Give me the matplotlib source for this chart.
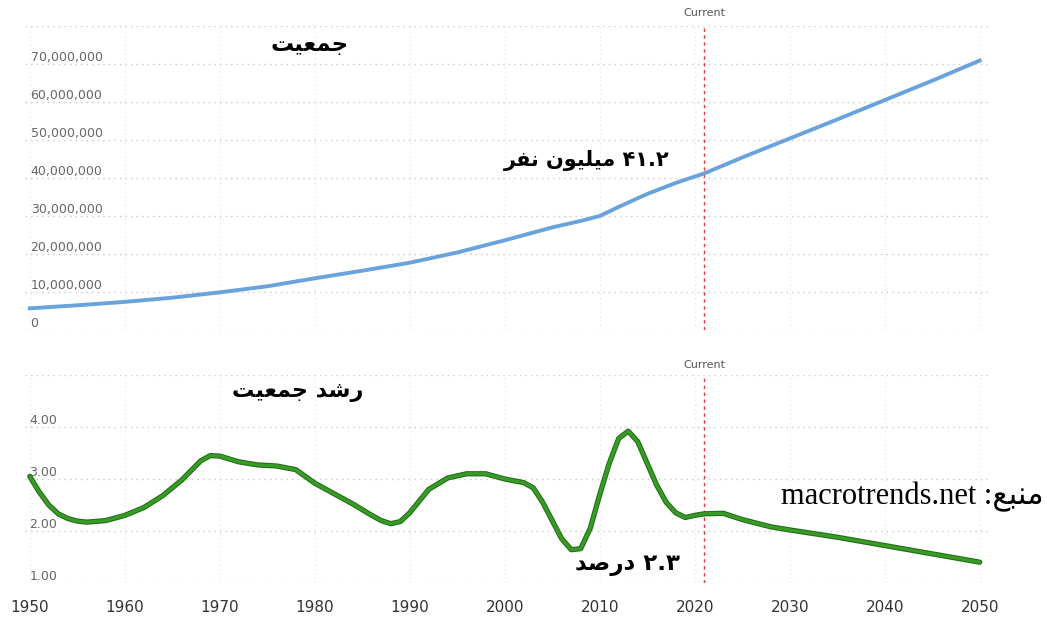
import numpy as np
import matplotlib
matplotlib.use('Agg')
import matplotlib.pyplot as plt
from matplotlib.ticker import FixedLocator, FuncFormatter

# population (Iraq)
popYears = [1950, 1955, 1960, 1965, 1970, 1975, 1980, 1985, 1990, 1995, 2000,
            2005, 2008, 2010, 2012, 2015, 2018, 2021, 2025, 2030, 2035, 2040, 2045, 2050]
popValues = [5.7, 6.5, 7.4, 8.5, 9.9, 11.5, 13.6, 15.6, 17.7, 20.4, 23.6,
             27.0, 28.7, 30.0, 32.4, 35.8, 38.7, 41.2, 45.4, 50.4, 55.4, 60.5, 65.6, 70.9]
popValues = [v * 1e6 for v in popValues]

# annual growth rate (%)
rateYears = [1950, 1951, 1952, 1953, 1954, 1955, 1956, 1958, 1960, 1962, 1964, 1966,
             1968, 1969, 1970, 1972, 1974, 1976, 1978, 1980, 1982, 1984, 1986, 1987,
             1988, 1989, 1990, 1992, 1994, 1996, 1998, 2000, 2002, 2003, 2004, 2005,
             2006, 2007, 2008, 2009, 2010, 2011, 2012, 2013, 2014, 2015, 2016, 2017,
             2018, 2019, 2020, 2021, 2023, 2025, 2028, 2030, 2035, 2040, 2045, 2050]
rateValues = [3.05, 2.75, 2.5, 2.33, 2.24, 2.19, 2.17, 2.2, 2.3, 2.45, 2.68, 2.98,
              3.35, 3.45, 3.44, 3.33, 3.27, 3.25, 3.18, 2.92, 2.72, 2.52, 2.3, 2.2,
              2.14, 2.18, 2.35, 2.8, 3.02, 3.1, 3.1, 3.0, 2.93, 2.83, 2.55, 2.2,
              1.85, 1.64, 1.66, 2.05, 2.7, 3.3, 3.78, 3.92, 3.72, 3.3, 2.88, 2.55,
              2.35, 2.26, 2.3, 2.33, 2.34, 2.22, 2.08, 2.02, 1.88, 1.72, 1.56, 1.4]

popTicks = list(range(0, 80000001, 10000000))
rateTicks = [1, 2, 3, 4, 5]
decades = list(range(1950, 2051, 10))
currentYear = 2021

# --- tiny Persian shaper (matplotlib has no bidi / arabic shaping) ---
# letter: (isolated, final, initial, medial)
FORMS = {
    'ب': ('\ufe8f', '\ufe90', '\ufe91', '\ufe92'),
    'ت': ('\ufe95', '\ufe96', '\ufe97', '\ufe98'),
    'ج': ('\ufe9d', '\ufe9e', '\ufe9f', '\ufea0'),
    'د': ('\ufea9', '\ufeaa', '\ufea9', '\ufeaa'),
    'ر': ('\ufead', '\ufeae', '\ufead', '\ufeae'),
    'ش': ('\ufeb5', '\ufeb6', '\ufeb7', '\ufeb8'),
    'ص': ('\ufeb9', '\ufeba', '\ufebb', '\ufebc'),
    'ع': ('\ufec9', '\ufeca', '\ufecb', '\ufecc'),
    'ف': ('\ufed1', '\ufed2', '\ufed3', '\ufed4'),
    'ل': ('\ufedd', '\ufede', '\ufedf', '\ufee0'),
    'م': ('\ufee1', '\ufee2', '\ufee3', '\ufee4'),
    'ن': ('\ufee5', '\ufee6', '\ufee7', '\ufee8'),
    'و': ('\ufeed', '\ufeee', '\ufeed', '\ufeee'),
    'ی': ('\ufbfc', '\ufbfd', '\ufbfe', '\ufbff'),
}
RIGHT_ONLY = set('درو')


def shape_word(w):
    out = []
    for i, c in enumerate(w):
        if c not in FORMS:
            out.append(c)
            continue
        prev = w[i - 1] if i > 0 else ''
        nxt = w[i + 1] if i + 1 < len(w) else ''
        linkPrev = prev in FORMS and prev not in RIGHT_ONLY
        linkNext = c not in RIGHT_ONLY and nxt in FORMS
        iso, fin, ini, med = FORMS[c]
        if linkPrev and linkNext:
            out.append(med)
        elif linkPrev:
            out.append(fin)
        elif linkNext:
            out.append(ini)
        else:
            out.append(iso)
    return out


def fa(text):
    words = []
    for w in reversed(text.split(' ')):
        if any(ch in FORMS for ch in w):
            words.append(''.join(reversed(shape_word(w))))
        else:
            words.append(w)
    return ' '.join(words)


plt.rcParams['font.family'] = ['DejaVu Sans']

fig = plt.figure(figsize=(10.47, 6.19), dpi=100)
ax1 = fig.add_axes([0.0239, 0.4669, 0.9236, 0.4911])
ax2 = fig.add_axes([0.0239, 0.0582, 0.9236, 0.3360])

xlo, xhi = 1949.5, 2051.3
gridH = dict(color='#c8c8c8', linestyle=(0, (1, 3)), linewidth=1.0)
gridV = dict(color='#e4e4e4', linestyle=(0, (1, 3)), linewidth=0.8)

for ax in (ax1, ax2):
    ax.set_xlim(xlo, xhi)
    for s in ax.spines.values():
        s.set_visible(False)
    ax.xaxis.set_major_locator(FixedLocator(decades))
    ax.tick_params(axis='both', length=0)
    ax.grid(axis='x', **gridV)
    ax.grid(axis='y', **gridH)
    ax.set_axisbelow(True)
    ax.axvline(currentYear, color='#e0393e', linestyle=(0, (2.5, 2.5)), linewidth=1.0, zorder=1)
    ax.text(currentYear, 1.025, 'Current', transform=ax.get_xaxis_transform(),
            ha='center', va='bottom', fontsize=8, color='#555555')

# top: population
ax1.plot(popYears, popValues, color='#6aa2dc', linewidth=2.8, zorder=3)
ax1.set_ylim(0, 80000000)
ax1.yaxis.set_major_locator(FixedLocator(popTicks))
ax1.yaxis.set_major_formatter(FuncFormatter(lambda v, p: '' if v >= 80000000 else f'{int(v):,}'))
ax1.set_xticklabels([])
ax1.tick_params(axis='y', pad=-4, labelsize=9, labelcolor='#666666')
for lab in ax1.get_yticklabels():
    lab.set_horizontalalignment('left')
    lab.set_verticalalignment('bottom')

# bottom: growth rate
ax2.plot(rateYears, rateValues, color='#1f6e14', linewidth=3.8, zorder=3, solid_capstyle='round')
ax2.plot(rateYears, rateValues, color='#3a9a28', linewidth=2.3, zorder=4, solid_capstyle='round')
ax2.set_ylim(1, 5)
ax2.yaxis.set_major_locator(FixedLocator(rateTicks))
ax2.yaxis.set_major_formatter(FuncFormatter(lambda v, p: '' if v >= 5 else f'{v:.2f}'))
ax2.tick_params(axis='y', pad=-3, labelsize=9, labelcolor='#666666')
for lab in ax2.get_yticklabels():
    lab.set_horizontalalignment('left')
    lab.set_verticalalignment('bottom')
ax2.tick_params(axis='x', pad=12, labelsize=11, labelcolor='#333333')

# Persian annotations
faFont = dict(family=['DejaVu Sans'], fontweight='bold', color='black')
ax1.text(1979.5, 75e6, fa('جمعیت'), ha='center', va='center', fontsize=16.5, **faFont)
ax1.text(2008.6, 44.7e6, fa('۴۱.۲ میلیون نفر'), ha='center', va='center', fontsize=15, **faFont)
ax2.text(1978.2, 4.67, fa('رشد جمعیت'), ha='center', va='center', fontsize=16, **faFont)
ax2.text(2012.9, 1.35, fa('۲.۳ درصد'), ha='center', va='center', fontsize=16.5, **faFont)
fig.text(0.997, 0.197, fa('منبع: macrotrends.net'), ha='right', va='center',
         fontsize=22, family=['Liberation Serif', 'DejaVu Sans'], color='black')

fig.savefig('out.png', dpi=100, facecolor='white')
